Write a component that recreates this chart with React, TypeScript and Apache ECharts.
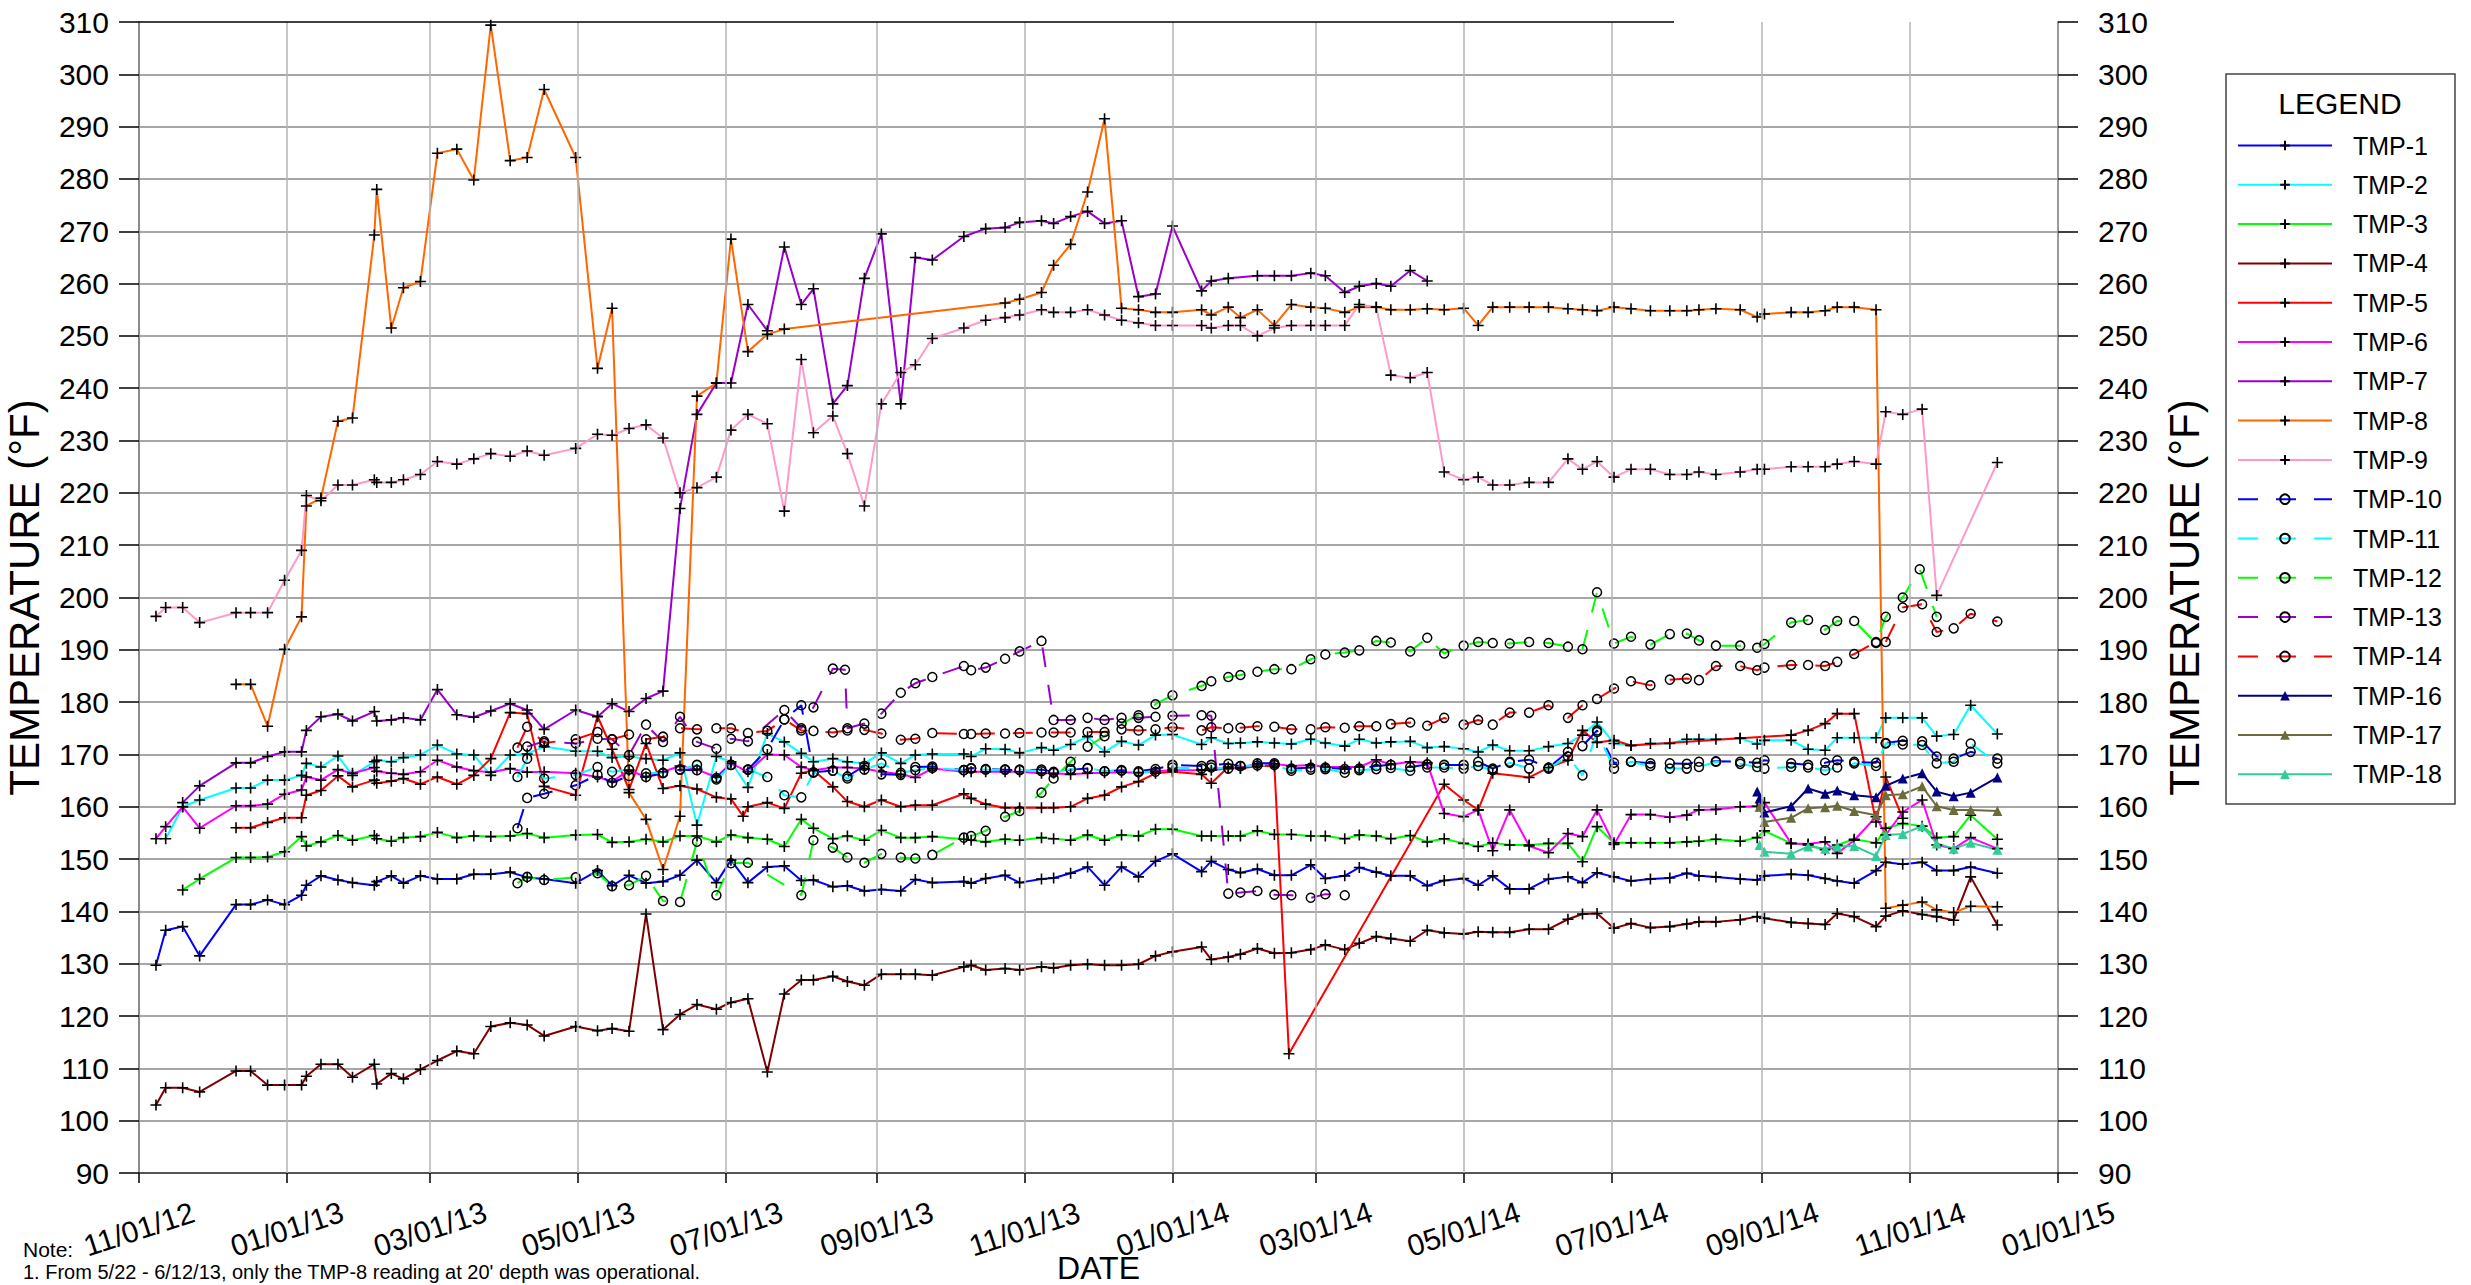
import React, { useEffect, useRef } from 'react';
import * as echarts from 'echarts';

// Dates are written 'yy-mm-dd'
const TICK_DATES = ['12-11-01', '13-01-01', '13-03-01', '13-05-01', '13-07-01', '13-09-01', '13-11-01', '14-01-01', '14-03-01', '14-05-01', '14-07-01', '14-09-01', '14-11-01', '15-01-01'];
const Y_MIN = 90;
const Y_MAX = 310;
const Y_STEP = 10;

const TMP1: [string, number][] = [['12-11-08',129.7],['12-11-12',136.4],['12-11-19',137.1],['12-11-26',131.5],['12-12-11',141.3],['12-12-17',141.3],['12-12-24',142.2],['12-12-31',141.3],['13-01-07',143.1],['13-01-09',145.0],['13-01-15',146.8],['13-01-22',146.0],['13-01-28',145.5],['13-02-06',145.0],['13-02-07',145.7],['13-02-13',146.8],['13-02-18',145.4],['13-02-25',146.8],['13-03-04',146.2],['13-03-12',146.2],['13-03-19',147.1],['13-03-26',147.1],['13-04-03',147.5],['13-04-10',146.5],['13-04-17',146.2],['13-04-30',145.4],['13-05-09',147.8],['13-05-15',144.9],['13-05-22',146.9],['13-05-29',145.4],['13-06-05',145.7],['13-06-12',146.9],['13-06-19',149.8],['13-06-27',145.5],['13-07-03',149.8],['13-07-10',145.5],['13-07-18',148.5],['13-07-25',148.7],['13-08-01',145.9],['13-08-06',146.0],['13-08-14',144.7],['13-08-20',144.9],['13-08-27',143.9],['13-09-03',144.2],['13-09-11',143.9],['13-09-17',146.1],['13-09-24',145.5],['13-10-07',145.7],['13-10-10',145.4],['13-10-16',146.3],['13-10-24',146.9],['13-10-30',145.5],['13-11-08',146.2],['13-11-13',146.4],['13-11-20',147.3],['13-11-27',148.5],['13-12-04',145.0],['13-12-11',148.5],['13-12-18',146.6],['13-12-25',149.6],['14-01-01',151.0],['14-01-13',147.6],['14-01-17',149.6],['14-01-24',148.0],['14-01-29',147.4],['14-02-05',148.1],['14-02-12',146.9],['14-02-19',146.9],['14-02-27',148.9],['14-03-05',146.3],['14-03-13',146.8],['14-03-19',148.4],['14-03-26',147.5],['14-04-01',146.8],['14-04-09',146.8],['14-04-16',144.9],['14-04-23',145.9],['14-05-01',146.3],['14-05-07',145.0],['14-05-13',146.8],['14-05-20',144.3],['14-05-28',144.3],['14-06-05',146.2],['14-06-13',146.6],['14-06-19',145.5],['14-06-25',147.4],['14-07-02',146.6],['14-07-09',145.8],['14-07-17',146.2],['14-07-25',146.4],['14-08-01',147.3],['14-08-06',146.8],['14-08-13',146.6],['14-08-23',146.2],['14-08-30',146.0],['14-09-02',146.8],['14-09-13',147.1],['14-09-20',146.9],['14-09-27',146.3],['14-10-02',145.8],['14-10-09',145.4],['14-10-18',147.8],['14-10-22',149.4],['14-10-29',149.0],['14-11-06',149.4],['14-11-12',147.8],['14-11-19',147.8],['14-11-26',148.5],['14-12-07',147.3]];

const TMP2: [string, number][] = [['12-11-12',153.9],['12-11-19',160.0],['12-11-26',161.3],['12-12-11',163.6],['12-12-17',163.6],['12-12-24',165.1],['12-12-31',165.1],['13-01-07',166.0],['13-01-09',168.3],['13-01-15',167.6],['13-01-22',169.7],['13-01-28',166.0],['13-02-06',168.6],['13-02-07',168.9],['13-02-13',168.6],['13-02-18',169.4],['13-02-25',169.9],['13-03-04',171.8],['13-03-12',170.1],['13-03-19',169.9],['13-03-26',166.0],['13-04-03',169.9],['13-04-10',170.1],['13-04-17',171.5],['13-04-30',170.6],['13-05-09',170.6],['13-05-15',169.4],['13-05-22',169.6],['13-05-29',169.2],['13-06-05',168.9],['13-06-12',170.3],['13-06-19',156.5],['13-06-27',169.6],['13-07-03',168.6],['13-07-10',163.7],['13-07-18',174.0],['13-07-25',172.4],['13-08-01',170.2],['13-08-06',168.6],['13-08-14',169.2],['13-08-20',168.6],['13-08-27',168.3],['13-09-03',170.3],['13-09-11',168.3],['13-09-17',169.9],['13-09-24',170.1],['13-10-07',170.1],['13-10-10',169.6],['13-10-16',171.1],['13-10-24',171.0],['13-10-30',170.3],['13-11-08',171.3],['13-11-13',170.8],['13-11-20',171.9],['13-11-27',173.4],['13-12-04',170.5],['13-12-11',172.5],['13-12-18',171.8],['13-12-25',173.7],['14-01-01',173.8],['14-01-13',171.9],['14-01-17',173.2],['14-01-24',172.1],['14-01-29',172.2],['14-02-05',172.4],['14-02-12',172.2],['14-02-19',172.0],['14-02-27',172.9],['14-03-05',172.2],['14-03-13',171.6],['14-03-19',172.9],['14-03-26',172.2],['14-04-01',172.4],['14-04-09',172.5],['14-04-16',171.3],['14-04-23',171.5],['14-05-01',171.1],['14-05-07',170.5],['14-05-13',171.8],['14-05-20',170.7],['14-05-28',170.7],['14-06-05',171.5],['14-06-13',172.1],['14-06-19',173.7],['14-06-25',176.2],['14-07-02',172.1],['14-07-09',171.7],['14-07-17',172.1],['14-07-25',172.1],['14-08-01',172.9],['14-08-06',172.9],['14-08-13',172.9],['14-08-23',173.1],['14-08-30',172.0],['14-09-02',172.7],['14-09-13',172.7],['14-09-20',171.0],['14-09-27',170.8],['14-10-02',173.2],['14-10-09',173.2],['14-10-18',173.2],['14-10-22',177.0],['14-10-29',177.0],['14-11-06',177.0],['14-11-12',173.5],['14-11-19',173.8],['14-11-26',179.4],['14-12-07',173.9]];

const TMP3: [string, number][] = [['12-11-19',144.1],['12-11-26',146.2],['12-12-11',150.3],['12-12-17',150.3],['12-12-24',150.4],['12-12-31',151.4],['13-01-07',154.3],['13-01-09',152.5],['13-01-15',153.3],['13-01-22',154.5],['13-01-28',153.6],['13-02-06',154.5],['13-02-07',153.9],['13-02-13',153.4],['13-02-18',154.1],['13-02-25',154.3],['13-03-04',155.1],['13-03-12',154.1],['13-03-19',154.4],['13-03-26',154.3],['13-04-03',154.4],['13-04-10',154.9],['13-04-17',154.1],['13-04-30',154.6],['13-05-09',154.7],['13-05-15',153.2],['13-05-22',153.3],['13-05-29',153.8],['13-06-05',153.3],['13-06-12',154.4],['13-06-19',154.4],['13-06-27',153.3],['13-07-03',154.6],['13-07-10',154.1],['13-07-18',153.8],['13-07-25',152.4],['13-08-01',157.6],['13-08-06',155.9],['13-08-14',153.9],['13-08-20',154.4],['13-08-27',153.6],['13-09-03',155.5],['13-09-11',154.1],['13-09-17',154.1],['13-09-24',154.3],['13-10-07',153.8],['13-10-10',153.6],['13-10-16',153.3],['13-10-24',153.8],['13-10-30',153.6],['13-11-08',154.1],['13-11-13',153.9],['13-11-20',153.6],['13-11-27',154.6],['13-12-04',153.6],['13-12-11',154.6],['13-12-18',154.4],['13-12-25',155.7],['14-01-01',155.7],['14-01-13',154.4],['14-01-17',154.4],['14-01-24',154.4],['14-01-29',154.4],['14-02-05',155.4],['14-02-12',154.7],['14-02-19',154.7],['14-02-27',154.4],['14-03-05',154.4],['14-03-13',153.9],['14-03-19',154.6],['14-03-26',154.4],['14-04-01',153.9],['14-04-09',154.5],['14-04-16',153.3],['14-04-23',153.9],['14-05-01',153.0],['14-05-07',152.4],['14-05-13',153.1],['14-05-20',152.7],['14-05-28',152.7],['14-06-05',153.0],['14-06-13',153.0],['14-06-19',149.5],['14-06-25',156.2],['14-07-02',153.1],['14-07-09',153.1],['14-07-17',153.1],['14-07-25',153.1],['14-08-01',153.3],['14-08-06',153.4],['14-08-13',153.8],['14-08-23',153.4],['14-08-30',154.1],['14-09-02',155.4],['14-09-13',153.0],['14-09-20',152.7],['14-09-27',151.8],['14-10-02',152.7],['14-10-09',153.8],['14-10-18',153.1],['14-10-22',155.9],['14-10-29',156.8],['14-11-06',156.3],['14-11-12',154.1],['14-11-19',154.3],['14-11-26',158.4],['14-12-07',153.8]];

const TMP4: [string, number][] = [['12-11-08',103.0],['12-11-12',106.3],['12-11-19',106.3],['12-11-26',105.5],['12-12-11',109.5],['12-12-17',109.5],['12-12-24',106.8],['12-12-31',106.8],['13-01-07',106.8],['13-01-09',108.5],['13-01-15',110.8],['13-01-22',110.8],['13-01-28',108.3],['13-02-06',110.8],['13-02-07',107.0],['13-02-13',109.0],['13-02-18',108.0],['13-02-25',109.8],['13-03-04',111.5],['13-03-12',113.3],['13-03-19',112.8],['13-03-26',118.0],['13-04-03',118.7],['13-04-10',118.3],['13-04-17',116.2],['13-04-30',118.0],['13-05-09',117.2],['13-05-15',117.6],['13-05-22',117.1],['13-05-29',139.5],['13-06-05',117.4],['13-06-12',120.3],['13-06-19',122.2],['13-06-27',121.3],['13-07-03',122.6],['13-07-10',123.3],['13-07-18',109.3],['13-07-25',124.2],['13-08-01',126.9],['13-08-06',126.9],['13-08-14',127.6],['13-08-20',126.6],['13-08-27',125.9],['13-09-03',128.0],['13-09-11',128.0],['13-09-17',128.0],['13-09-24',127.8],['13-10-07',129.4],['13-10-10',129.7],['13-10-16',128.8],['13-10-24',129.1],['13-10-30',128.8],['13-11-08',129.4],['13-11-13',129.2],['13-11-20',129.7],['13-11-27',129.9],['13-12-04',129.7],['13-12-11',129.7],['13-12-18',129.9],['13-12-25',131.5],['14-01-01',132.3],['14-01-13',133.2],['14-01-17',130.8],['14-01-24',131.3],['14-01-29',131.8],['14-02-05',132.9],['14-02-12',132.0],['14-02-19',132.1],['14-02-27',132.7],['14-03-05',133.6],['14-03-13',132.7],['14-03-19',133.9],['14-03-26',135.2],['14-04-01',134.8],['14-04-09',134.3],['14-04-16',136.4],['14-04-23',135.9],['14-05-01',135.7],['14-05-07',136.1],['14-05-13',136.0],['14-05-20',136.0],['14-05-28',136.6],['14-06-05',136.6],['14-06-13',138.5],['14-06-19',139.5],['14-06-25',139.6],['14-07-02',136.8],['14-07-09',137.7],['14-07-17',136.9],['14-07-25',137.1],['14-08-01',137.6],['14-08-06',138.0],['14-08-13',138.0],['14-08-23',138.4],['14-08-30',139.0],['14-09-02',138.7],['14-09-13',137.9],['14-09-20',137.7],['14-09-27',137.5],['14-10-02',139.6],['14-10-09',139.0],['14-10-18',137.1],['14-10-22',139.1],['14-10-29',140.1],['14-11-06',139.4],['14-11-12',139.0],['14-11-19',138.3],['14-11-26',146.6],['14-12-07',137.4]];

const TMP5: [string, number][] = [['12-12-11',156.0],['12-12-17',156.0],['12-12-24',157.0],['12-12-31',157.9],['13-01-07',157.9],['13-01-09',162.2],['13-01-15',163.1],['13-01-22',165.9],['13-01-28',163.8],['13-02-06',165.1],['13-02-07',164.5],['13-02-13',164.9],['13-02-18',165.4],['13-02-25',164.3],['13-03-04',165.7],['13-03-12',164.3],['13-03-19',166.0],['13-03-26',169.2],['13-04-03',178.0],['13-04-10',177.8],['13-04-17',163.9],['13-04-30',162.2],['13-05-09',177.3],['13-05-15',171.0],['13-05-22',163.3],['13-05-29',172.1],['13-06-05',163.5],['13-06-12',164.0],['13-06-19',163.4],['13-06-27',161.8],['13-07-03',161.5],['13-07-08',158.2],['13-07-10',160.0],['13-07-18',160.8],['13-07-25',159.7],['13-08-01',166.4],['13-08-06',167.0],['13-08-14',163.8],['13-08-20',161.0],['13-08-27',160.0],['13-09-03',161.3],['13-09-11',160.0],['13-09-17',160.3],['13-09-24',160.3],['13-10-07',162.5],['13-10-10',161.6],['13-10-16',160.5],['13-10-24',159.8],['13-10-30',159.8],['13-11-08',159.8],['13-11-13',159.8],['13-11-20',160.0],['13-11-27',161.6],['13-12-04',162.2],['13-12-11',163.8],['13-12-18',164.8],['13-12-25',166.4],['14-01-01',166.7],['14-01-13',166.2],['14-01-17',164.5],['14-01-24',167.6],['14-01-29',167.3],['14-02-05',167.8],['14-02-12',167.8],['14-02-18',112.8],['14-04-23',164.3],['14-05-01',161.3],['14-05-07',159.4],['14-05-13',166.4],['14-05-28',165.6],['14-06-05',167.5],['14-06-13',168.9],['14-06-19',174.6],['14-06-25',172.3],['14-07-02',172.7],['14-07-09',171.7],['14-08-23',173.1],['14-09-13',173.7],['14-09-20',174.6],['14-09-27',175.9],['14-10-02',177.8],['14-10-09',177.8],['14-10-18',157.1],['14-10-22',165.7],['14-10-29',157.8]];

const TMP6: [string, number][] = [['12-11-08',153.9],['12-11-12',156.2],['12-11-19',160.0],['12-11-26',155.9],['12-12-11',160.2],['12-12-17',160.2],['12-12-24',160.5],['12-12-31',162.4],['13-01-07',163.2],['13-01-09',165.7],['13-01-15',165.1],['13-01-22',167.1],['13-01-28',166.4],['13-02-06',167.5],['13-02-07',166.8],['13-02-13',166.4],['13-02-18',166.2],['13-02-25',166.7],['13-03-04',168.9],['13-03-12',167.6],['13-03-19',166.9],['13-03-26',166.6],['13-04-03',167.3],['13-04-10',166.6],['13-04-17',166.7],['13-04-30',166.4],['13-05-09',165.7],['13-05-15',164.8],['13-05-22',167.0],['13-05-29',165.7],['13-06-05',166.7],['13-06-12',167.8],['13-06-19',167.1],['13-06-27',165.7],['13-07-03',168.3],['13-07-10',166.7],['13-07-18',170.0],['13-07-25',169.9],['13-08-01',167.6],['13-08-06',167.0],['13-08-14',167.5],['13-08-20',167.5],['13-08-27',167.3],['13-09-03',166.7],['13-09-11',166.2],['13-09-17',165.6],['13-09-24',167.3],['13-10-07',166.7],['13-10-10',166.7],['13-10-16',166.7],['13-10-24',166.7],['13-10-30',166.7],['13-11-08',166.4],['13-11-13',166.4],['13-11-20',166.2],['13-11-27',166.4],['13-12-04',166.5],['13-12-11',166.6],['13-12-18',166.5],['13-12-25',166.8],['14-01-01',167.0],['14-01-13',167.0],['14-01-17',167.0],['14-01-24',167.3],['14-01-29',167.5],['14-02-05',168.2],['14-02-12',168.2],['14-02-19',167.8],['14-02-27',168.0],['14-03-05',167.6],['14-03-13',167.6],['14-03-19',167.6],['14-03-26',169.0],['14-04-01',168.1],['14-04-09',168.6],['14-04-16',168.4],['14-04-23',158.7],['14-05-01',158.1],['14-05-07',159.4],['14-05-13',151.6],['14-05-20',159.4],['14-05-28',152.5],['14-06-05',151.2],['14-06-13',154.9],['14-06-19',154.3],['14-06-25',159.4],['14-07-02',152.8],['14-07-09',158.5],['14-07-17',158.5],['14-07-25',158.0],['14-08-01',158.4],['14-08-06',159.4],['14-08-13',159.5],['14-08-23',160.0],['14-08-30',160.1],['14-09-02',160.8],['14-09-13',153.0],['14-09-20',152.9],['14-09-27',153.3],['14-10-02',151.1],['14-10-09',153.6],['14-10-18',158.1],['14-10-22',154.6],['14-10-29',159.0],['14-11-06',161.3],['14-11-12',152.7],['14-11-19',152.0],['14-11-26',154.1],['14-12-07',152.0]];

const TMP7: [string, number][] = [['12-11-19',160.8],['12-11-26',164.0],['12-12-11',168.4],['12-12-17',168.4],['12-12-24',169.6],['12-12-31',170.5],['13-01-07',170.5],['13-01-09',174.6],['13-01-15',177.2],['13-01-22',177.7],['13-01-28',176.4],['13-02-06',178.2],['13-02-07',176.4],['13-02-13',176.6],['13-02-18',177.0],['13-02-25',176.6],['13-03-04',182.4],['13-03-12',177.6],['13-03-19',177.1],['13-03-26',178.3],['13-04-03',179.7],['13-04-10',178.5],['13-04-17',174.8],['13-04-30',178.5],['13-05-09',177.2],['13-05-15',179.7],['13-05-22',178.2],['13-05-29',180.7],['13-06-05',182.1],['13-06-12',217.0],['13-06-19',235.0],['13-06-27',241.0],['13-07-03',241.0],['13-07-10',256.0],['13-07-18',251.0],['13-07-25',267.0],['13-08-01',256.0],['13-08-06',259.0],['13-08-14',237.0],['13-08-20',240.5],['13-08-27',261.0],['13-09-03',269.5],['13-09-11',237.0],['13-09-17',265.0],['13-09-24',264.5],['13-10-07',269.0],['13-10-16',270.5],['13-10-24',270.7],['13-10-30',271.7],['13-11-08',272.0],['13-11-13',271.5],['13-11-20',272.8],['13-11-27',273.8],['13-12-04',271.5],['13-12-11',272.0],['13-12-18',257.5],['13-12-25',258.0],['14-01-01',271.0],['14-01-13',258.6],['14-01-17',260.5],['14-01-24',261.0],['14-02-05',261.5],['14-02-12',261.5],['14-02-19',261.5],['14-02-27',262.0],['14-03-05',261.5],['14-03-13',258.3],['14-03-19',259.5],['14-03-26',260.0],['14-04-01',259.5],['14-04-09',262.5],['14-04-16',260.5]];

const TMP8: [string, number][] = [['12-12-11',183.4],['12-12-17',183.4],['12-12-24',175.4],['12-12-31',190.1],['13-01-07',196.3],['13-01-09',217.5],['13-01-15',219.0],['13-01-22',233.7],['13-01-28',234.3],['13-02-06',269.3],['13-02-07',278.0],['13-02-13',251.5],['13-02-18',259.2],['13-02-25',260.4],['13-03-04',284.9],['13-03-12',285.7],['13-03-19',279.8],['13-03-26',309.4],['13-04-03',283.5],['13-04-10',284.1],['13-04-17',297.1],['13-04-30',284.1],['13-05-09',243.8],['13-05-15',255.3],['13-05-22',162.7],['13-05-29',157.6],['13-06-05',148.0],['13-06-12',158.2],['13-06-19',238.5],['13-06-27',241.0],['13-07-03',268.5],['13-07-10',247.0],['13-07-18',250.3],['13-07-25',251.3],['13-10-24',256.3],['13-10-30',257.0],['13-11-08',258.3],['13-11-13',263.5],['13-11-20',267.5],['13-11-27',277.5],['13-12-04',291.5],['13-12-11',255.3],['13-12-18',255.0],['13-12-25',254.5],['14-01-01',254.5],['14-01-13',255.0],['14-01-17',254.0],['14-01-24',255.5],['14-01-29',253.5],['14-02-05',255.0],['14-02-12',252.0],['14-02-19',256.0],['14-02-27',255.5],['14-03-05',255.3],['14-03-13',254.5],['14-03-19',255.5],['14-03-26',255.5],['14-04-01',255.0],['14-04-09',255.0],['14-04-16',255.2],['14-04-23',255.0],['14-05-01',255.3],['14-05-07',252.0],['14-05-13',255.5],['14-05-20',255.5],['14-05-28',255.5],['14-06-05',255.5],['14-06-13',255.2],['14-06-19',255.0],['14-06-25',254.8],['14-07-02',255.5],['14-07-09',255.2],['14-07-17',254.8],['14-07-25',254.8],['14-08-01',254.8],['14-08-06',255.0],['14-08-13',255.2],['14-08-23',255.0],['14-08-30',253.6],['14-09-02',254.2],['14-09-13',254.5],['14-09-20',254.5],['14-09-27',254.8],['14-10-02',255.5],['14-10-09',255.5],['14-10-18',255.0],['14-10-22',140.6],['14-10-29',141.2],['14-11-06',141.8],['14-11-12',140.3],['14-11-19',139.8],['14-11-26',141.0],['14-12-07',140.9]];

const TMP9: [string, number][] = [['12-11-08',196.4],['12-11-12',198.1],['12-11-19',198.1],['12-11-26',195.2],['12-12-11',197.1],['12-12-17',197.1],['12-12-24',197.1],['12-12-31',203.3],['13-01-07',209.0],['13-01-09',219.5],['13-01-15',218.5],['13-01-22',221.5],['13-01-28',221.5],['13-02-06',222.5],['13-02-07',222.0],['13-02-13',222.0],['13-02-18',222.5],['13-02-25',223.5],['13-03-04',226.0],['13-03-12',225.5],['13-03-19',226.5],['13-03-26',227.5],['13-04-03',227.0],['13-04-10',228.0],['13-04-17',227.2],['13-04-30',228.5],['13-05-09',231.2],['13-05-15',231.0],['13-05-22',232.3],['13-05-29',233.0],['13-06-05',230.5],['13-06-12',220.0],['13-06-19',221.0],['13-06-27',223.0],['13-07-03',232.0],['13-07-10',235.0],['13-07-18',233.2],['13-07-25',216.5],['13-08-01',245.5],['13-08-06',231.5],['13-08-14',234.7],['13-08-20',227.5],['13-08-27',217.5],['13-09-03',237.0],['13-09-11',243.0],['13-09-17',244.5],['13-09-24',249.5],['13-10-07',251.5],['13-10-16',253.0],['13-10-24',253.5],['13-10-30',254.0],['13-11-08',255.0],['13-11-13',254.5],['13-11-20',254.5],['13-11-27',255.0],['13-12-04',254.0],['13-12-11',253.0],['13-12-18',252.5],['13-12-25',252.0],['14-01-01',252.0],['14-01-13',252.0],['14-01-17',251.5],['14-01-24',252.0],['14-01-29',252.0],['14-02-05',250.0],['14-02-12',251.5],['14-02-19',252.0],['14-02-27',252.0],['14-03-05',252.0],['14-03-13',252.0],['14-03-19',256.0],['14-03-26',255.5],['14-04-01',242.5],['14-04-09',242.0],['14-04-16',243.0],['14-04-23',224.0],['14-05-01',222.5],['14-05-07',223.0],['14-05-13',221.5],['14-05-20',221.5],['14-05-28',222.0],['14-06-05',222.0],['14-06-13',226.5],['14-06-19',224.5],['14-06-25',226.0],['14-07-02',223.0],['14-07-09',224.5],['14-07-17',224.5],['14-07-25',223.5],['14-08-01',223.5],['14-08-06',224.0],['14-08-13',223.5],['14-08-23',224.0],['14-08-30',224.5],['14-09-02',224.5],['14-09-13',225.0],['14-09-20',225.0],['14-09-27',225.0],['14-10-02',225.5],['14-10-09',226.0],['14-10-18',225.5],['14-10-22',235.5],['14-10-29',235.0],['14-11-06',236.0],['14-11-12',200.4],['14-12-07',225.8]];

const TMP10: [string, number][] = [['13-04-06',155.9],['13-04-10',161.7],['13-04-17',162.5],['13-04-30',164.1],['13-05-09',166.1],['13-05-15',164.6],['13-05-22',165.9],['13-05-29',165.7],['13-06-05',166.4],['13-06-12',167.1],['13-06-19',167.0],['13-06-27',165.5],['13-07-03',168.0],['13-07-10',167.1],['13-07-18',171.0],['13-07-25',176.7],['13-08-01',179.4],['13-08-06',166.6],['13-08-14',166.9],['13-08-20',165.8],['13-08-27',167.8],['13-09-03',166.2],['13-09-11',166.1],['13-09-17',167.6],['13-09-24',167.7],['13-10-07',167.0],['13-10-10',167.4],['13-10-16',167.2],['13-10-24',167.1],['13-10-30',167.0],['13-11-08',167.1],['13-11-13',166.7],['13-11-20',167.1],['13-11-27',167.3],['13-12-04',166.8],['13-12-11',167.0],['13-12-18',166.8],['13-12-25',167.2],['14-01-01',168.0],['14-01-13',167.8],['14-01-17',168.0],['14-01-24',168.2],['14-01-29',167.8],['14-02-05',168.3],['14-02-12',168.3],['14-02-19',167.3],['14-02-27',167.5],['14-03-05',167.5],['14-03-13',167.2],['14-03-19',167.3],['14-03-26',167.8],['14-04-01',168.0],['14-04-09',167.6],['14-04-16',168.1],['14-04-23',168.0],['14-05-01',168.0],['14-05-07',168.6],['14-05-13',167.3],['14-05-20',168.6],['14-05-28',169.0],['14-06-05',167.5],['14-06-13',170.5],['14-06-19',171.6],['14-06-25',174.6],['14-07-02',168.4],['14-07-09',168.6],['14-07-17',168.3],['14-07-25',168.3],['14-08-01',168.2],['14-08-06',168.6],['14-08-13',168.7],['14-08-23',168.6],['14-08-30',168.4],['14-09-02',168.9],['14-09-13',168.3],['14-09-20',168.0],['14-09-27',168.4],['14-10-02',168.9],['14-10-09',168.6],['14-10-18',168.4],['14-10-22',172.2],['14-10-29',172.6],['14-11-06',172.5],['14-11-12',169.6],['14-11-19',169.2],['14-11-26',170.5],['14-12-07',169.2]];

const TMP11: [string, number][] = [['13-04-06',165.7],['13-04-10',169.2],['13-04-17',165.4],['13-04-30',166.1],['13-05-09',167.6],['13-05-15',166.7],['13-05-22',167.1],['13-05-29',166.4],['13-06-05',166.5],['13-06-12',167.1],['13-06-19',168.0],['13-06-27',165.2],['13-07-03',168.0],['13-07-10',167.1],['13-07-18',165.7],['13-07-25',162.2],['13-08-01',161.8],['13-08-06',166.5],['13-08-14',166.9],['13-08-20',165.4],['13-08-27',167.1],['13-09-03',168.3],['13-09-11',166.5],['13-09-17',167.0],['13-09-24',167.4],['13-10-07',167.0],['13-10-10',167.3],['13-10-16',167.1],['13-10-24',167.1],['13-10-30',167.1],['13-11-08',166.8],['13-11-13',166.5],['13-11-20',167.2],['13-11-27',167.4],['13-12-04',166.8],['13-12-11',166.9],['13-12-18',166.6],['13-12-25',166.7],['14-01-01',167.5],['14-01-13',167.3],['14-01-17',167.5],['14-01-24',167.3],['14-01-29',167.8],['14-02-05',167.9],['14-02-12',168.0],['14-02-19',166.9],['14-02-27',167.1],['14-03-05',167.2],['14-03-13',166.5],['14-03-19',167.0],['14-03-26',167.2],['14-04-01',167.4],['14-04-09',166.9],['14-04-16',167.5],['14-04-23',167.5],['14-05-01',167.3],['14-05-07',167.8],['14-05-13',167.0],['14-05-20',168.4],['14-05-28',167.3],['14-06-05',167.3],['14-06-13',169.6],['14-06-19',166.0],['14-06-25',174.3],['14-07-02',167.3],['14-07-09',168.6],['14-07-17',167.8],['14-07-25',167.3],['14-08-01',167.3],['14-08-06',167.6],['14-08-13',168.6],['14-08-23',168.2],['14-08-30',167.6],['14-09-02',167.3],['14-09-13',167.6],['14-09-20',167.5],['14-09-27',167.0],['14-10-02',167.5],['14-10-09',168.3],['14-10-18',167.8],['14-10-22',172.1],['14-10-29',171.9],['14-11-06',171.8],['14-11-12',168.3],['14-11-19',168.6],['14-11-26',172.1],['14-12-07',168.3]];

const TMP12: [string, number][] = [['13-04-06',145.4],['13-04-10',146.6],['13-04-17',146.0],['13-04-30',146.5],['13-05-09',147.3],['13-05-15',144.8],['13-05-22',145.0],['13-05-29',146.8],['13-06-05',142.0],['13-06-12',141.8],['13-06-19',153.3],['13-06-27',143.1],['13-07-03',149.2],['13-07-10',149.3],['13-08-01',143.1],['13-08-06',153.6],['13-08-14',152.2],['13-08-20',150.3],['13-08-27',149.3],['13-09-03',151.0],['13-09-11',150.3],['13-09-17',150.1],['13-09-24',150.8],['13-10-07',154.1],['13-10-10',154.4],['13-10-16',155.4],['13-10-24',158.1],['13-10-30',159.2],['13-11-08',162.7],['13-11-13',165.4],['13-11-20',168.6],['13-11-27',171.5],['13-12-04',173.5],['13-12-11',175.9],['13-12-18',177.5],['13-12-25',179.6],['14-01-01',181.3],['14-01-13',183.1],['14-01-17',184.0],['14-01-24',184.8],['14-01-29',185.2],['14-02-05',185.8],['14-02-12',186.3],['14-02-19',186.3],['14-02-27',188.2],['14-03-05',189.1],['14-03-13',189.5],['14-03-19',189.9],['14-03-26',191.7],['14-04-01',191.4],['14-04-09',189.7],['14-04-16',192.3],['14-04-23',189.3],['14-05-01',190.8],['14-05-07',191.5],['14-05-13',191.3],['14-05-20',191.2],['14-05-28',191.5],['14-06-05',191.3],['14-06-13',190.6],['14-06-19',190.1],['14-06-25',201.0],['14-07-02',191.2],['14-07-09',192.5],['14-07-17',191.0],['14-07-25',193.0],['14-08-01',193.1],['14-08-06',191.8],['14-08-13',190.8],['14-08-23',190.8],['14-08-30',190.4],['14-09-02',191.1],['14-09-13',195.2],['14-09-20',195.7],['14-09-27',193.8],['14-10-02',195.5],['14-10-09',195.5],['14-10-18',191.3],['14-10-22',196.3],['14-10-29',200.0],['14-11-05',205.4],['14-11-12',196.3]];

const TMP13: [string, number][] = [['13-04-10',171.5],['13-04-17',172.5],['13-04-30',172.1],['13-05-09',173.0],['13-05-15',172.9],['13-05-22',169.9],['13-05-29',175.7],['13-06-05',172.4],['13-06-12',177.2],['13-06-19',172.4],['13-06-27',171.1],['13-07-03',173.0],['13-07-10',172.5],['13-07-25',178.5],['13-08-01',175.0],['13-08-06',179.0],['13-08-14',186.4],['13-08-19',186.2],['13-08-20',175.0],['13-08-27',175.9],['13-09-03',177.8],['13-09-11',181.8],['13-09-17',183.6],['13-09-24',184.8],['13-10-07',186.9],['13-10-10',186.1],['13-10-16',186.6],['13-10-24',188.3],['13-10-30',189.7],['13-11-08',191.7],['13-11-13',176.6],['13-11-20',176.6],['13-11-27',177.0],['13-12-04',176.6],['13-12-11',177.0],['13-12-18',177.0],['13-12-25',177.2],['14-01-01',177.4],['14-01-13',177.5],['14-01-17',177.4],['14-01-24',143.4],['14-01-29',143.6],['14-02-05',143.9],['14-02-12',143.2],['14-02-19',143.1],['14-02-27',142.6],['14-03-05',143.3],['14-03-13',143.1]];

const TMP14: [string, number][] = [['13-04-06',171.3],['13-04-10',175.3],['13-04-17',172.2],['13-04-30',172.9],['13-05-09',174.3],['13-05-15',172.9],['13-05-22',173.8],['13-05-29',172.9],['13-06-05',173.4],['13-06-12',175.0],['13-06-19',174.8],['13-06-27',175.0],['13-07-03',175.0],['13-07-10',174.1],['13-07-18',174.5],['13-07-25',176.7],['13-08-01',174.6],['13-08-06',174.5],['13-08-14',174.2],['13-08-20',174.6],['13-08-27',174.7],['13-09-03',174.0],['13-09-11',172.8],['13-09-17',173.0],['13-09-24',174.1],['13-10-07',173.9],['13-10-10',173.9],['13-10-16',174.0],['13-10-24',174.0],['13-10-30',174.1],['13-11-08',174.2],['13-11-13',174.2],['13-11-20',174.2],['13-11-27',174.3],['13-12-04',174.3],['13-12-11',174.8],['13-12-18',174.6],['13-12-25',174.8],['14-01-01',175.2],['14-01-13',174.6],['14-01-17',175.2],['14-01-24',175.0],['14-01-29',175.1],['14-02-05',175.4],['14-02-12',175.3],['14-02-19',174.8],['14-02-27',174.8],['14-03-05',175.2],['14-03-13',175.1],['14-03-19',175.4],['14-03-26',175.4],['14-04-01',175.8],['14-04-09',176.1],['14-04-16',175.5],['14-04-23',177.0],['14-05-01',175.7],['14-05-07',176.6],['14-05-13',175.7],['14-05-20',178.0],['14-05-28',178.0],['14-06-05',179.4],['14-06-13',177.0],['14-06-19',179.4],['14-06-25',180.6],['14-07-02',182.6],['14-07-09',184.0],['14-07-17',183.2],['14-07-25',184.3],['14-08-01',184.5],['14-08-06',184.2],['14-08-13',186.9],['14-08-23',186.9],['14-08-30',186.1],['14-09-02',186.6],['14-09-13',187.1],['14-09-20',187.1],['14-09-27',186.9],['14-10-02',187.7],['14-10-09',189.2],['14-10-18',191.5],['14-10-22',191.5],['14-10-29',198.1],['14-11-06',198.7],['14-11-12',193.4],['14-11-19',194.1],['14-11-26',196.9],['14-12-07',195.4]];

const TMP16: [string, number][] = [['14-08-30',162.9],['14-08-31',161.6],['14-09-02',158.9],['14-09-13',160.1],['14-09-20',163.5],['14-09-27',162.5],['14-10-02',163.1],['14-10-09',162.2],['14-10-18',161.8],['14-10-22',164.0],['14-10-29',165.4],['14-11-06',166.4],['14-11-12',162.9],['14-11-19',162.0],['14-11-26',162.7],['14-12-07',165.6]];

const TMP17: [string, number][] = [['14-08-31',160.0],['14-09-02',157.1],['14-09-13',157.9],['14-09-20',159.7],['14-09-27',159.9],['14-10-02',160.2],['14-10-09',159.2],['14-10-18',158.4],['14-10-22',162.2],['14-10-29',162.4],['14-11-06',163.9],['14-11-12',160.1],['14-11-19',159.4],['14-11-26',159.4],['14-12-07',159.2]];

const TMP18: [string, number][] = [['14-08-31',152.7],['14-09-02',151.4],['14-09-13',151.0],['14-09-20',152.4],['14-09-27',152.0],['14-10-02',152.4],['14-10-09',152.5],['14-10-18',150.6],['14-10-22',154.6],['14-10-29',154.8],['14-11-06',156.3],['14-11-12',153.0],['14-11-19',152.0],['14-11-26',153.1],['14-12-07',151.8]];

const SERIES_NAMES = ['TMP-1','TMP-2','TMP-3','TMP-4','TMP-5','TMP-6','TMP-7','TMP-8','TMP-9','TMP-10','TMP-11','TMP-12','TMP-13','TMP-14','TMP-16','TMP-17','TMP-18'];
const SERIES_DATA = [TMP1, TMP2, TMP3, TMP4, TMP5, TMP6, TMP7, TMP8, TMP9, TMP10, TMP11, TMP12, TMP13, TMP14, TMP16, TMP17, TMP18];

// styling (kept separate from the data)
const SERIES_COLORS = ['#0000FF','#00FFFF','#00FF00','#800000','#FF0000','#FF00FF','#9900CC','#FF6600','#FF99CC','#0000FF','#00FFFF','#00FF00','#9900CC','#FF0000','#000080','#6B6B3C','#33CC99'];
const SERIES_MARKERS = ['plus','plus','plus','plus','plus','plus','plus','plus','plus','circle','circle','circle','circle','circle','triangle','triangle','triangle'];

const FONT = 'Arial, "Liberation Sans", Helvetica, sans-serif';
const PLUS = 'path://M0,5L10,5M5,0L5,10';

function toTime(s: string): number {
  const [y, m, d] = s.split('-').map(Number);
  return new Date(2000 + y, m - 1, d).getTime();
}

function fmtDate(v: number): string {
  const d = new Date(v);
  const p = (n: number) => (n < 10 ? '0' + n : '' + n);
  return p(d.getMonth() + 1) + '/' + p(d.getDate()) + '/' + p(d.getFullYear() % 100);
}

function buildSeries(ticks: number[]) {
  const grid: any = {
    type: 'line',
    name: '__grid',
    data: [],
    silent: true,
    animation: false,
    z: 1,
    markLine: {
      silent: true,
      symbol: ['none', 'none'],
      label: { show: false },
      animation: false,
      lineStyle: { color: '#b4b4b4', width: 1.5, type: 'solid' },
      emphasis: { disabled: true },
      data: ticks.slice(1, -1).map((t) => ({ xAxis: t })),
    },
  };
  const lines = SERIES_NAMES.map((name, i) => {
    const marker = SERIES_MARKERS[i];
    const color = SERIES_COLORS[i];
    const base: any = {
      type: 'line',
      name,
      data: SERIES_DATA[i].map(([d, v]) => [toTime(d), v]),
      yAxisIndex: 0,
      animation: false,
      emphasis: { disabled: true },
      lineStyle: { color, width: 2, type: marker === 'circle' ? [20, 18] : 'solid' },
      z: 3,
    };
    if (marker === 'plus') {
      base.symbol = PLUS;
      base.symbolSize = 11;
      base.itemStyle = { color: 'rgba(0,0,0,0)', borderColor: '#000', borderWidth: 1.6 };
    } else if (marker === 'circle') {
      base.symbol = 'circle';
      base.symbolSize = 9;
      base.itemStyle = { color: 'rgba(0,0,0,0)', borderColor: '#000', borderWidth: 1.5 };
    } else {
      base.symbol = 'triangle';
      base.symbolSize = 10;
      base.itemStyle = { color, borderWidth: 0 };
    }
    return base;
  });
  return [grid, ...lines];
}

export default function App() {
  const ref = useRef<HTMLDivElement>(null);
  useEffect(() => {
    if (!ref.current) return;
    const chart = echarts.init(ref.current, null, { renderer: 'svg' });
    const ticks = TICK_DATES.map(toTime);
    const yAxisCommon = {
      type: 'value',
      min: Y_MIN,
      max: Y_MAX,
      interval: Y_STEP,
      axisTick: { show: true, inside: false, length: 20, lineStyle: { color: '#000', width: 1.5 } },
      axisLabel: { color: '#000', fontSize: 30, fontFamily: FONT },
      name: 'TEMPERATURE (°F)',
      nameLocation: 'middle',
      nameRotate: 90,
      nameMoveOverlap: false,
      nameTextStyle: { color: '#000', fontSize: 42, fontFamily: FONT },
    };
    chart.setOption({
      animation: false,
      backgroundColor: '#fff',
      grid: { left: 139, top: 22, width: 1919, height: 1151, containLabel: false, outerBoundsMode: 'none' },
      xAxis: {
        type: 'value',
        min: ticks[0],
        max: ticks[ticks.length - 1],
        axisLine: { show: true, lineStyle: { color: '#555', width: 2 } },
        axisTick: { show: true, length: 10, lineStyle: { color: '#000', width: 1.5 }, customValues: ticks },
        axisLabel: {
          customValues: ticks,
          formatter: (v: number) => fmtDate(v),
          rotate: 18,
          align: 'center',
          verticalAlign: 'middle',
          margin: 56,
          fontSize: 30,
          color: '#000',
          fontFamily: FONT,
          showMinLabel: true,
          showMaxLabel: true,
        },
        splitLine: { show: false },
        name: 'DATE',
        nameLocation: 'middle',
        nameGap: 79,
        nameMoveOverlap: false,
        nameTextStyle: { color: '#000', fontSize: 32, fontFamily: FONT },
      },
      yAxis: [
        {
          ...yAxisCommon,
          position: 'left',
          axisLine: { show: true, lineStyle: { color: '#8c8c8c', width: 2 } },
          axisLabel: { ...yAxisCommon.axisLabel, margin: 30 },
          splitLine: { show: true, showMaxLine: false, lineStyle: { color: '#a6a6a6', width: 2 } },
          nameGap: 94,
        },
        {
          ...yAxisCommon,
          position: 'right',
          axisLine: { show: true, lineStyle: { color: '#9a9a9a', width: 2 } },
          axisLabel: { ...yAxisCommon.axisLabel, margin: 40 },
          splitLine: { show: false },
          nameGap: 105,
        },
      ],
      legend: {
        show: true,
        data: SERIES_NAMES,
        orient: 'vertical',
        left: 2237,
        top: 133,
        padding: 0,
        itemWidth: 94,
        itemHeight: 12,
        itemGap: 14.3,
        selectedMode: false,
        textStyle: { color: '#000', fontSize: 25, fontFamily: FONT, lineHeight: 25, padding: [0, 0, 0, 16] },
      },
      graphic: [
        { type: 'line', z: 10, shape: { x1: 139, y1: 22, x2: 1674, y2: 22 }, style: { stroke: '#000', lineWidth: 1.5 } },
        { type: 'rect', z: 1, shape: { x: 2226, y: 74, width: 229, height: 730 }, style: { fill: 'rgba(0,0,0,0)', stroke: '#444', lineWidth: 1.5 } },
        { type: 'text', z: 10, x: 2340, y: 103, style: { text: 'LEGEND', fontSize: 30, fontFamily: FONT, fill: '#000', align: 'center', verticalAlign: 'middle' } },
        { type: 'text', z: 10, x: 23, y: 1249, style: { text: 'Note:', fontSize: 21, fontFamily: FONT, fill: '#000', align: 'left', verticalAlign: 'middle' } },
        { type: 'text', z: 10, x: 23, y: 1272, style: { text: "1. From 5/22 - 6/12/13, only the TMP-8 reading at 20' depth was operational.", fontSize: 20, fontFamily: FONT, fill: '#000', align: 'left', verticalAlign: 'middle' } },
      ],
      series: buildSeries(ticks),
    });
    return () => chart.dispose();
  }, []);
  return <div ref={ref} style={{ position: 'fixed', left: 0, top: 0, width: 2471, height: 1285, background: '#fff' }} />;
}
